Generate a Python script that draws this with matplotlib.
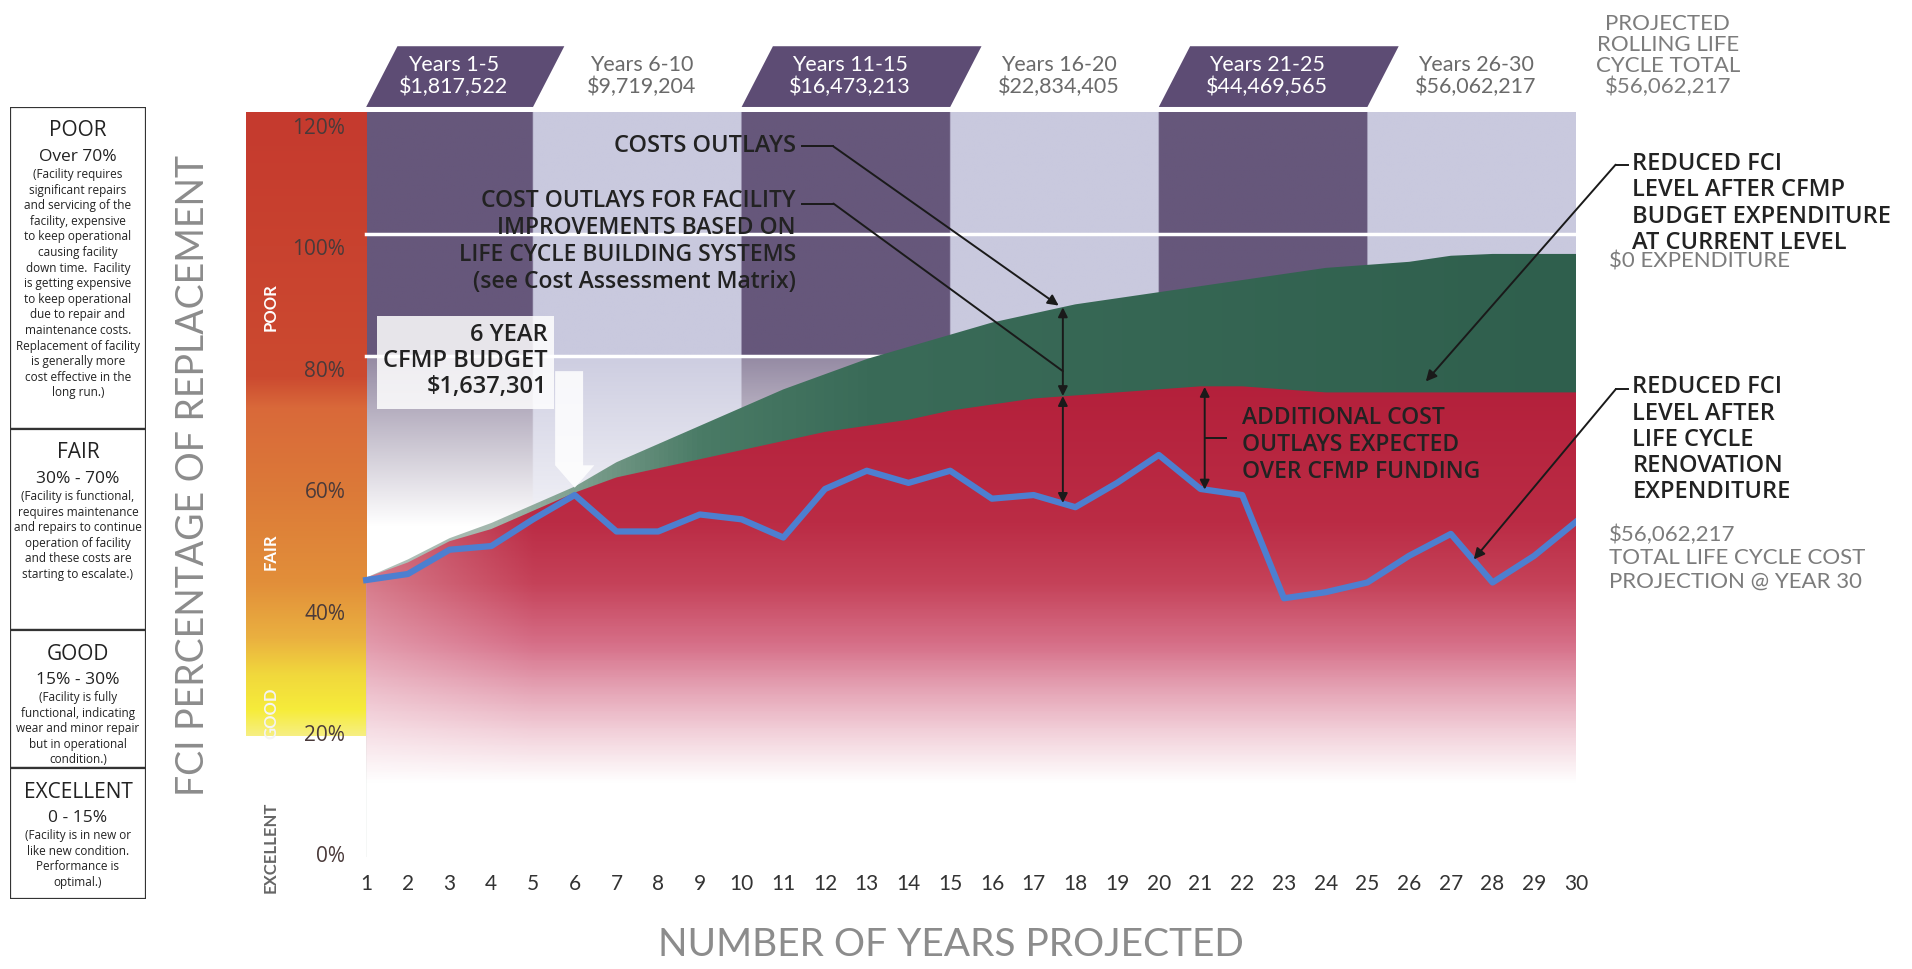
import numpy as np
import matplotlib
import matplotlib.pyplot as plt
from matplotlib.colors import LinearSegmentedColormap, to_rgb
from matplotlib.patches import Rectangle, Polygon

# ---- data ----
years = list(range(1, 31))
no_funding = [46, 49, 52.5, 55, 58, 61, 65, 68, 71, 74, 77, 79.5, 82, 84, 86,
              88, 89.5, 91, 92, 93, 94, 95, 96, 97, 97.5, 98, 99, 99.3, 99.3, 99.3]
cfmp_budget = [46, 48.5, 52, 54, 57, 60, 62.5, 64, 65.5, 67, 68.5, 70, 71, 72, 73.5,
               74.5, 75.5, 76, 76.5, 77, 77.5, 77.5, 77, 76.5, 76.5, 76.5, 76.5, 76.5, 76.5, 76.5]
life_cycle = [45.6, 46.6, 50.6, 51.2, 55.6, 59.6, 53.6, 53.6, 56.4, 55.6, 52.6, 60.6, 63.6, 61.6, 63.6,
              59, 59.6, 57.6, 61.6, 66.2, 60.6, 59.6, 42.6, 43.6, 45.2, 49.6, 53.2, 45.2, 49.6, 55.2]

periods = ['Years 1-5', 'Years 6-10', 'Years 11-15', 'Years 16-20', 'Years 21-25', 'Years 26-30']
period_costs = ['$1,817,522', '$9,719,204', '$16,473,213', '$22,834,405', '$44,469,565', '$56,062,217']
period_bounds = [1, 5, 10, 15, 20, 25, 30]

y_ticks = [0, 20, 40, 60, 80, 100, 120]

conditions = ['POOR', 'FAIR', 'GOOD', 'EXCELLENT']
ranges = ['Over 70%', '30% - 70%', '15% - 30%', '0 - 15%']
descriptions = [
    '(Facility requires\nsignificant repairs\nand servicing of the\nfacility, expensive\nto keep operational\n'
    'causing facility\ndown time.  Facility\nis getting expensive\nto keep operational\ndue to repair and\n'
    'maintenance costs.\nReplacement of facility\nis generally more\ncost effective in the\nlong run.)',
    '(Facility is functional,\nrequires maintenance\nand repairs to continue\noperation of facility\n'
    'and these costs are\nstarting to escalate.)',
    '(Facility is fully\nfunctional, indicating\nwear and minor repair\nbut in operational\ncondition.)',
    '(Facility is in new or\nlike new condition.\nPerformance is\noptimal.)',
]

THIN = ['Lato', 'DejaVu Sans']
BODY = ['Open Sans', 'DejaVu Sans']
DARK = '#222222'
GRAY = '#7c7c7c'

fig = plt.figure(figsize=(19.12, 9.69), dpi=100)
ax = fig.add_axes([246 / 1912, 1 - 857 / 969, 1330 / 1912, 747 / 969])
ax.set_xlim(-1.88, 30)
ax.set_ylim(0, 123)
for s in ax.spines.values():
    s.set_visible(False)

# ---- background columns ----
dark_col = np.array(to_rgb('#66577b'))
light_col = np.array(to_rgb('#c9c9de'))
xs = np.linspace(1, 30, 580)
ys = np.linspace(0, 122.6, 400)
bg = np.ones((len(ys), len(xs), 3))
for i in range(len(period_bounds) - 1):
    m = (xs >= period_bounds[i]) & (xs <= period_bounds[i + 1])
    base = dark_col if i % 2 == 0 else light_col
    for j, yv in enumerate(ys):
        if yv >= 82.5:
            a = 0.0
        else:
            t = np.clip((82.5 - yv) / 30, 0, 1)
            a = min((0.3 if i % 2 == 0 else 0.08) + 0.75 * t, 1)
        bg[j, m] = base * (1 - a) + a
ax.imshow(bg, extent=[1, 30, 0, 122.6], origin='lower', aspect='auto', zorder=0)
for yl in (102.5, 82.5):
    ax.plot([1, 30], [yl, yl], color='white', lw=2.5, zorder=0.5)

# ---- condition band on the left ----
band_cmap = LinearSegmentedColormap.from_list('band', [
    (0, '#f7ef80'), (0.04, '#f6ec3a'), (0.097, '#f1d83c'), (0.156, '#eab040'),
    (0.244, '#e28f3a'), (0.39, '#dc7a38'), (0.526, '#d9693a'), (0.575, '#cc4a30'), (1, '#c53a2e')])
ax.imshow(np.linspace(0, 1, 256).reshape(-1, 1), cmap=band_cmap, extent=[-1.88, 1, 20, 122.6],
          origin='lower', aspect='auto', zorder=0)
for lab, yv, col in zip(conditions, [90.6, 50.2, 23.6, 1.6], ['white', 'white', '#f4f4f4', '#666666']):
    ax.text(-1.28, yv, lab, rotation=90, ha='center', va='center', color=col,
            fontsize=12, fontweight='bold', family=THIN)

# ---- stacked areas ----
green_cmap = LinearSegmentedColormap.from_list('green', [
    (0, '#b4c2bb'), (0.103, '#a3b7ad'), (0.172, '#7fa08f'), (0.276, '#4a7b66'),
    (0.414, '#3a6b58'), (1, '#2f5f4d')])
red_cmap = LinearSegmentedColormap.from_list('red', [
    (0, '#ffffff'), (0.15, '#ffffff'), (0.25, '#f3d3dc'), (0.35, '#e4a0b2'), (0.4375, '#d66f88'),
    (0.5625, '#c54259'), (0.6875, '#bb2c45'), (1, '#b31f3a')])

g_fill = ax.fill_between(years, 0, no_funding, facecolor='none', edgecolor='none')
g_im = ax.imshow(np.linspace(0, 1, 256).reshape(1, -1), cmap=green_cmap, extent=[1, 30, 0, 100],
                 origin='lower', aspect='auto', zorder=1)
g_im.set_clip_path(g_fill.get_paths()[0], transform=ax.transData)

# red: vertical gradient, a little paler at the left end
rv = red_cmap(np.linspace(0, 1, 200))[:, :3]
rx = np.linspace(1, 30, 300)
pale = 0.3 * np.clip((5 - rx) / 4, 0, 1)
red_img = rv[:, None, :] * (1 - pale[None, :, None]) + pale[None, :, None]
r_fill = ax.fill_between(years, 0, cfmp_budget, facecolor='none', edgecolor='none')
r_im = ax.imshow(red_img, extent=[1, 30, 0, 80], origin='lower', aspect='auto', zorder=2)
r_im.set_clip_path(r_fill.get_paths()[0], transform=ax.transData)

ax.plot(years, life_cycle, color='#4d7fd0', lw=4.5, zorder=3)

# ---- ticks ----
ax.set_xticks(years)
ax.set_xticklabels([str(y) for y in years], fontsize=15, color='#333333', family=THIN)
ax.tick_params(axis='x', length=0, pad=12)
ax.set_yticks([])
for t in y_ticks:
    ax.text(0.5, t, f'{t}%', ha='right', va='center', fontsize=15, color='#4a3a3a', family=BODY)

# ---- period headers ----
for i, (lab, cost) in enumerate(zip(periods, period_costs)):
    x0, x1 = period_bounds[i], period_bounds[i + 1]
    if i % 2 == 0:
        ax.add_patch(Polygon([(x0, 123.5), (x1, 123.5), (x1 + 0.75, 133.5), (x0 + 0.75, 133.5)],
                             closed=True, facecolor='#5d4c74', edgecolor='none', clip_on=False))
        col = 'white'
    else:
        col = '#6a6a6a'
    ax.text((x0 + x1) / 2 + 0.1, 128.6, f'{lab}\n{cost}', ha='center', va='center', color=col,
            fontsize=15.5, family=THIN, linespacing=1.05)
ax.text(32.2, 132, 'PROJECTED\nROLLING LIFE\nCYCLE TOTAL\n$56,062,217', ha='center', va='center',
        color=GRAY, fontsize=16, family=THIN, linespacing=1.05)

# ---- annotations ----
arrow = dict(arrowstyle='-|>', color='#1a1a1a', lw=1.4, shrinkA=0, shrinkB=0, mutation_scale=16)
plain = dict(arrowstyle='-', color='#1a1a1a', lw=1.4, shrinkA=0, shrinkB=0)
double = dict(arrowstyle='<|-|>', color='#1a1a1a', lw=1.4, shrinkA=0, shrinkB=0, mutation_scale=14)

ax.text(11.3, 117, 'COSTS OUTLAYS', ha='right', va='center', fontsize=17, fontweight='semibold',
        color=DARK, family=BODY, zorder=6)
ax.plot([11.45, 12.2], [117, 117], color='#1a1a1a', lw=1.4, zorder=6)
ax.annotate('', xy=(17.6, 90.8), xytext=(12.2, 117), arrowprops=arrow, zorder=6)

ax.text(11.3, 101.3, 'COST OUTLAYS FOR FACILITY\nIMPROVEMENTS BASED ON\nLIFE CYCLE BUILDING SYSTEMS\n(see Cost Assessment Matrix)',
        ha='right', va='center', multialignment='right', fontsize=16.5, fontweight='semibold', color=DARK,
        family=BODY, linespacing=1.17, zorder=6)
ax.plot([11.45, 12.2], [107.6, 107.6], color='#1a1a1a', lw=1.4, zorder=6)
ax.annotate('', xy=(17.7, 80), xytext=(12.2, 107.6), arrowprops=plain, zorder=6)

ax.annotate('', xy=(17.7, 90.5), xytext=(17.7, 75.9), arrowprops=double, zorder=6)
ax.annotate('', xy=(17.7, 75.9), xytext=(17.7, 58.3), arrowprops=double, zorder=6)

ax.annotate('', xy=(21.1, 77.4), xytext=(21.1, 60.5), arrowprops=double, zorder=6)
ax.plot([21.1, 21.6], [69, 69], color='#1a1a1a', lw=1.4, zorder=6)
ax.text(22.0, 67.9, 'ADDITIONAL COST\nOUTLAYS EXPECTED\nOVER CFMP FUNDING', ha='left', va='center',
        fontsize=16.5, fontweight='semibold', color=DARK, family=BODY, linespacing=1.17, zorder=6)

# 6 year budget callout
ax.add_patch(Rectangle((1.26, 73.8), 4.25, 15.2, facecolor='white', alpha=0.85, edgecolor='none', zorder=4))
ax.add_patch(Polygon([(5.53, 80), (6.2, 80), (6.2, 64.5), (6.47, 64.5), (6.0, 60.8), (5.53, 64.5)],
                     closed=True, facecolor='white', alpha=0.85, edgecolor='none', zorder=4))
ax.text(5.35, 81.7, '6 YEAR\nCFMP BUDGET\n$1,637,301', ha='right', va='center', multialignment='right',
        fontsize=17, fontweight='semibold', color=DARK, family=BODY, linespacing=1.12, zorder=6)

# right hand labels
ax.text(31.35, 107.6, 'REDUCED FCI\nLEVEL AFTER CFMP\nBUDGET EXPENDITURE\nAT CURRENT LEVEL', ha='left', va='center',
        fontsize=17, fontweight='semibold', color=DARK, family=BODY, linespacing=1.12)
ax.plot([31.25, 30.95], [114, 114], color='#1a1a1a', lw=1.4, clip_on=False)
ax.annotate('', xy=(26.4, 78.3), xytext=(30.95, 114), arrowprops=arrow, zorder=6, annotation_clip=False)
ax.text(30.8, 98, '$0 EXPENDITURE', ha='left', va='center', fontsize=16, color=GRAY, family=THIN)

ax.text(31.35, 68.7, 'REDUCED FCI\nLEVEL AFTER\nLIFE CYCLE\nRENOVATION\nEXPENDITURE', ha='left', va='center',
        fontsize=17, fontweight='semibold', color=DARK, family=BODY, linespacing=1.12)
ax.plot([31.25, 30.95], [77, 77], color='#1a1a1a', lw=1.4, clip_on=False)
ax.annotate('', xy=(27.55, 49), xytext=(30.95, 77), arrowprops=arrow, zorder=6, annotation_clip=False)
ax.text(30.8, 49.2, '$56,062,217\nTOTAL LIFE CYCLE COST\nPROJECTION @ YEAR 30', ha='left', va='center',
        fontsize=16, color=GRAY, family=THIN, linespacing=1.2)

# ---- axis titles ----
fig.text(193 / 1912, 1 - 476 / 969, 'FCI PERCENTAGE OF REPLACEMENT', rotation=90, ha='center', va='center',
         fontsize=27, color='#8c8c8c', family=THIN)
fig.text(951 / 1912, 1 - 945 / 969, 'NUMBER OF YEARS PROJECTED', ha='center', va='center',
         fontsize=28, color='#8c8c8c', family=THIN)

# ---- condition key on the far left ----
kx = fig.add_axes([10 / 1912, 1 - 899 / 969, 136 / 1912, 792 / 969])
kx.set_xlim(0, 136)
kx.set_ylim(792, 0)
kx.axis('off')
box_tops = [0, 322, 523, 661, 792]
for i, (cond, rng, desc) in enumerate(zip(conditions, ranges, descriptions)):
    top, bot = box_tops[i], box_tops[i + 1]
    kx.add_patch(Rectangle((0, top), 136, bot - top, facecolor='white', edgecolor='#333333', lw=1.6))
    kx.text(68, top + 24, cond, ha='center', va='center', fontsize=15, color=DARK, family=BODY)
    kx.text(68, top + 50, rng, ha='center', va='center', fontsize=12.5, color=DARK, family=BODY)
    kx.text(68, top + 61, desc, ha='center', va='top', fontsize=8.5, color=DARK, family=BODY, linespacing=1.26)

fig.savefig('out.png', dpi=100)
